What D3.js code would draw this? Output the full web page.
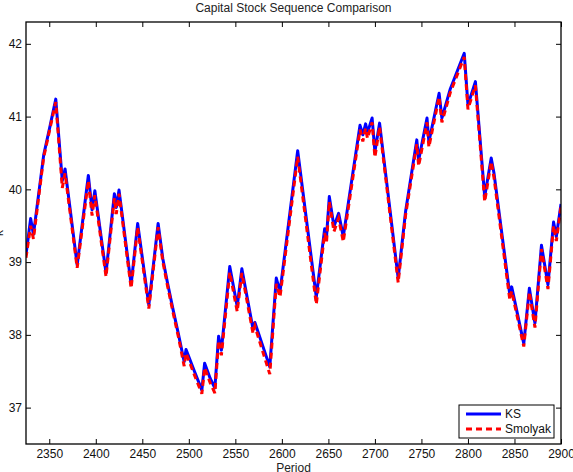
<!DOCTYPE html>
<html>
<head>
<meta charset="utf-8">
<script src="https://cdn.jsdelivr.net/npm/d3@7"></script>
<style>
  body { margin: 0; background: #fff; }
  text { font-family: "Liberation Sans", Arial, Helvetica, sans-serif; }
</style>
</head>
<body>
<div id="chart"></div>
<script>

// dane (okresy w punktach zalamania)
var periods = [2325,2330,2333,2344,2351,2357,2364,2367,2380,2392,2396,2399,2411,2420,2422,2425,
               2438,2445,2457,2467,2472,2477,2483,2489,2495,2497,2506,2514,2517,2523,2528,2532,
               2535,2544,2552,2557,2569,2571,2587,2594,2598,2617,2637,2646,2648,2651,2656,2661,
               2666,2684,2687,2690,2692,2697,2700,2705,2725,2733,2745,2747,2756,2758,2769,2772,
               2781,2796,2800,2808,2818,2825,2828,2845,2847,2860,2866,2872,2879,2886,2892,2895,2900];

var ksValues = [39.10,39.60,39.38,40.47,40.88,41.24,40.12,40.28,38.96,40.19,39.72,39.98,38.85,39.94,39.75,39.99,
                38.69,39.53,38.41,39.53,39.05,38.72,38.35,38.00,37.63,37.80,37.50,37.24,37.61,37.40,37.27,37.98,
                37.79,38.94,38.39,38.91,38.08,38.17,37.56,38.78,38.59,40.53,38.52,39.46,39.35,39.90,39.49,39.67,
                39.35,40.88,40.75,40.90,40.78,40.98,40.52,40.91,38.78,39.70,40.68,40.40,40.98,40.65,41.32,40.98,
                41.38,41.87,41.16,41.48,39.90,40.43,40.22,38.55,38.66,37.88,38.64,38.16,39.23,38.69,39.55,39.35,39.80];

var smolyakValues = [39.06,39.50,39.32,40.44,40.85,41.20,40.02,40.22,38.92,40.12,39.64,39.92,38.80,39.88,39.66,39.94,
                     38.64,39.48,38.36,39.48,39.01,38.68,38.31,37.96,37.57,37.75,37.45,37.19,37.55,37.34,37.20,37.92,
                     37.72,38.86,38.32,38.85,38.02,38.12,37.46,38.70,38.52,40.45,38.42,39.40,39.28,39.83,39.42,39.60,
                     39.28,40.82,40.66,40.84,40.70,40.92,40.44,40.86,38.72,39.65,40.62,40.32,40.92,40.58,41.27,40.92,
                     41.33,41.82,41.10,41.43,39.83,40.38,40.16,38.48,38.60,37.84,38.59,38.10,39.18,38.63,39.50,39.29,39.76];

var xTicks = [2350,2400,2450,2500,2550,2600,2650,2700,2750,2800,2850,2900];
var yTicks = [37,38,39,40,41,42];
var seriesNames = ["KS", "Smolyak"];


/***** obszar rysowania *****/

var margin = {top: 22, right: 12, bottom: 28, left: 26};
var width = 573 - margin.left - margin.right,
    height = 472 - margin.top - margin.bottom;

var svg = d3.select("#chart")
    .append("svg")
    .attr("width", 573)
    .attr("height", 472);

var g = svg.append("g")
    .attr("transform", "translate(" + margin.left + "," + margin.top + ")");

var x = d3.scaleLinear().domain([2325, 2900]).range([0, width]);
var y = d3.scaleLinear().domain([36.5, 42.3]).range([height, 0]);

svg.append("defs").append("clipPath").attr("id", "clip")
    .append("rect").attr("width", width).attr("height", height);

// osie (ticki do srodka, jak w matlabie)
var axisStyle = function(sel){
    sel.select(".domain").remove();
    sel.selectAll("line").attr("stroke", "#000");
    sel.selectAll("text").style("font-size", "12px").attr("fill", "#111");
};

g.append("g").attr("transform", "translate(0," + height + ")")
    .call(d3.axisBottom(x).tickValues(xTicks).tickFormat(d3.format("d")).tickSizeInner(-5).tickSizeOuter(0).tickPadding(5))
    .call(axisStyle);

g.append("g")
    .call(d3.axisTop(x).tickValues(xTicks).tickFormat("").tickSizeInner(-5).tickSizeOuter(0))
    .call(axisStyle);

g.append("g")
    .call(d3.axisLeft(y).tickValues(yTicks).tickFormat(d3.format("d")).tickSizeInner(-5).tickSizeOuter(0).tickPadding(4))
    .call(axisStyle);

g.append("g").attr("transform", "translate(" + width + ",0)")
    .call(d3.axisRight(y).tickValues(yTicks).tickFormat("").tickSizeInner(-5).tickSizeOuter(0))
    .call(axisStyle);

// linie
var line = d3.line()
    .x(function(d, i){ return x(periods[i]); })
    .y(function(d){ return y(d); });

var lines = g.append("g").attr("clip-path", "url(#clip)");

lines.append("path")
    .datum(ksValues)
    .attr("d", line)
    .attr("fill", "none")
    .attr("stroke", "#0000ff")
    .attr("stroke-width", 3)
    .attr("stroke-linejoin", "round");

lines.append("path")
    .datum(smolyakValues)
    .attr("d", line)
    .attr("fill", "none")
    .attr("stroke", "#ff0000")
    .attr("stroke-width", 3)
    .attr("stroke-dasharray", "6,4");

// ramka
g.append("rect")
    .attr("width", width)
    .attr("height", height)
    .attr("fill", "none")
    .attr("stroke", "#000")
    .attr("stroke-width", 1.3);

// teksty
svg.append("text")
    .attr("x", margin.left + width/2)
    .attr("y", 12)
    .text("Capital Stock Sequence Comparison")
    .style("font-size", "12px")
    .attr("fill", "#222")
    .attr("text-anchor", "middle");

svg.append("text")
    .attr("x", margin.left + width/2)
    .attr("y", 472)
    .text("Period")
    .style("font-size", "12px")
    .attr("fill", "#222")
    .attr("text-anchor", "middle");

svg.append("text")
    .attr("transform", "translate(3,233) rotate(-90)")
    .text("k")
    .style("font-size", "12px")
    .attr("fill", "#222")
    .attr("text-anchor", "middle");

// legenda
var legend = svg.append("g").attr("transform", "translate(459,405)");

legend.append("rect")
    .attr("width", 95)
    .attr("height", 33)
    .attr("fill", "#fff")
    .attr("stroke", "#000")
    .attr("stroke-width", 1);

legend.selectAll(".lg")
    .data(seriesNames)
    .enter()
    .append("line")
    .attr("x1", 7).attr("x2", 42)
    .attr("y1", function(d, i){ return 9 + i*15; })
    .attr("y2", function(d, i){ return 9 + i*15; })
    .attr("stroke", function(d, i){ return i == 0 ? "#0000ff" : "#ff0000"; })
    .attr("stroke-width", 3)
    .attr("stroke-dasharray", function(d, i){ return i == 0 ? null : "6,4"; });

legend.selectAll(".lt")
    .data(seriesNames)
    .enter()
    .append("text")
    .attr("x", 46)
    .attr("y", function(d, i){ return 13 + i*15; })
    .text(function(d){ return d; })
    .style("font-size", "12px")
    .attr("fill", "#111");

</script>
</body>
</html>
